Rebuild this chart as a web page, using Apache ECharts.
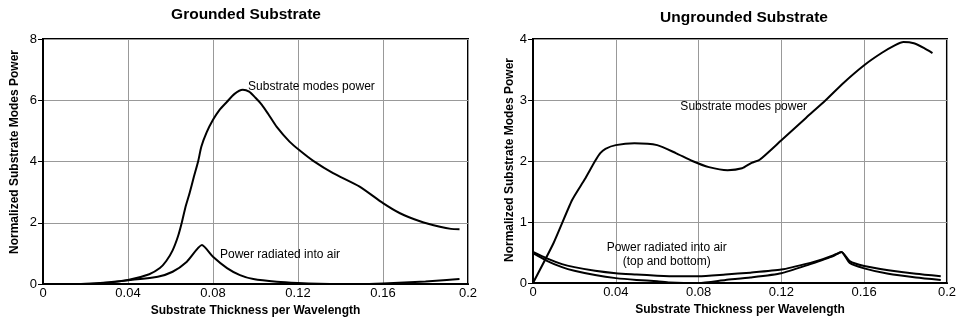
<!DOCTYPE html>
<html>
<head>
<meta charset="utf-8">
<script src="https://cdn.jsdelivr.net/npm/echarts@6/dist/echarts.min.js"></script>
<style>
  html, body { margin: 0; padding: 0; background: #fff; }
  #chart { width: 959px; height: 323px; }
</style>
</head>
<body>
<div id="chart"></div>
<script>
// grounded substrate
const gModeX = [0, 0.01, 0.02, 0.03, 0.04, 0.05, 0.055, 0.058, 0.061, 0.0635, 0.0653, 0.067, 0.069, 0.071, 0.073, 0.0745, 0.077, 0.080, 0.083, 0.0866, 0.090, 0.094, 0.097, 0.100, 0.103, 0.106, 0.110, 0.116, 0.121, 0.127, 0.1365, 0.149, 0.16, 0.168, 0.1774, 0.1868, 0.192, 0.196];
const gModeY = [0, 0, 0.01, 0.05, 0.13, 0.32, 0.52, 0.75, 1.1, 1.55, 2.0, 2.5, 2.97, 3.5, 4.0, 4.48, 4.95, 5.36, 5.68, 5.95, 6.2, 6.34, 6.28, 6.08, 5.85, 5.55, 5.13, 4.65, 4.35, 4.03, 3.62, 3.18, 2.64, 2.31, 2.05, 1.87, 1.80, 1.79];
const gAirX = [0, 0.02, 0.03, 0.04, 0.054, 0.061, 0.0677, 0.0748, 0.080, 0.0866, 0.0927, 0.099, 0.11, 0.12, 0.13, 0.14, 0.15, 0.16, 0.17, 0.18, 0.19, 0.196];
const gAirY = [0, 0, 0.04, 0.12, 0.24, 0.4, 0.73, 1.27, 0.89, 0.52, 0.29, 0.16, 0.07, 0.03, 0.01, 0, 0, 0.02, 0.05, 0.08, 0.13, 0.16];

// ungrounded substrate
const uModeX = [0, 0.01, 0.0189, 0.025, 0.030, 0.0325, 0.035, 0.04, 0.049, 0.06, 0.069, 0.077, 0.085, 0.094, 0.101, 0.1056, 0.1095, 0.12, 0.132, 0.1415, 0.15, 0.16, 0.1684, 0.175, 0.179, 0.184, 0.189, 0.193];
const uModeY = [0, 0.66, 1.36, 1.7, 2.0, 2.13, 2.2, 2.26, 2.29, 2.26, 2.13, 2.0, 1.9, 1.85, 1.88, 1.97, 2.02, 2.34, 2.71, 3.0, 3.28, 3.57, 3.77, 3.9, 3.95, 3.93, 3.85, 3.77];
const uAirTopX = [0, 0.007, 0.014, 0.02, 0.03, 0.04, 0.05, 0.06, 0.07, 0.08, 0.093, 0.105, 0.12, 0.134, 0.14, 0.145, 0.149, 0.153, 0.16, 0.1717, 0.185, 0.197];
const uAirTopY = [0.51, 0.4, 0.31, 0.26, 0.2, 0.16, 0.14, 0.12, 0.11, 0.11, 0.14, 0.17, 0.22, 0.33, 0.39, 0.45, 0.51, 0.36, 0.28, 0.21, 0.15, 0.11];
const uAirBotX = [0, 0.007, 0.014, 0.02, 0.03, 0.04, 0.05, 0.06, 0.066, 0.08, 0.093, 0.105, 0.12, 0.134, 0.14, 0.145, 0.149, 0.153, 0.16, 0.1717, 0.185, 0.197];
const uAirBotY = [0.49, 0.36, 0.26, 0.2, 0.13, 0.08, 0.05, 0.03, 0.01, 0.0, 0.05, 0.09, 0.16, 0.31, 0.38, 0.44, 0.51, 0.33, 0.24, 0.15, 0.09, 0.05];

const xTicks = { min: 0, max: 0.2, interval: 0.04 };
const titles = ['Grounded Substrate', 'Ungrounded Substrate'];
const xName = 'Substrate Thickness per Wavelength';
const yName = 'Normalized Substrate Modes Power';

const FONT = 'Liberation Sans, Arial, sans-serif';
const zip = (xs, ys) => xs.map((x, i) => [x, ys[i]]);

function xAxis(gridIndex) {
  return {
    type: 'value', gridIndex, ...xTicks,
    name: xName, nameLocation: 'middle', nameGap: 21,
    nameTextStyle: { fontFamily: FONT, fontWeight: 'bold', fontSize: 12, color: '#000' },
    axisLine: { show: true, lineStyle: { color: '#000', width: 2 } },
    axisTick: { show: false },
    axisLabel: { fontFamily: FONT, fontSize: 13, color: '#000', margin: 3 },
    splitLine: { show: true, lineStyle: { color: '#999', width: 1 } },
  };
}
function yAxis(gridIndex, max, interval) {
  return {
    type: 'value', gridIndex, min: 0, max, interval,
    axisLine: { show: true, lineStyle: { color: '#000', width: 2 } },
    axisTick: { show: true, length: 5, lineStyle: { color: '#000' } },
    axisLabel: { fontFamily: FONT, fontSize: 13, color: '#000', margin: 6 },
    splitLine: { show: true, lineStyle: { color: '#999', width: 1 } },
  };
}
function line(data, xi, notes) {
  return {
    type: 'line', data, xAxisIndex: xi, yAxisIndex: xi,
    smooth: 0.2, showSymbol: false, symbol: 'none',
    lineStyle: { color: '#000', width: 2, join: 'round' },
    markPoint: notes ? {
      symbol: 'circle', symbolSize: 0, silent: true,
      data: notes.map(n => ({
        coord: n.at,
        label: {
          show: true, formatter: n.text, position: [0, 0],
          align: n.align || 'left', verticalAlign: 'middle',
          fontFamily: FONT, fontSize: 12, color: '#000', lineHeight: 14,
        },
      })),
    } : undefined,
  };
}
function text(x, y, str, size, rotation) {
  return {
    type: 'text', x, y, rotation: rotation || 0, silent: true,
    style: { text: str, fontFamily: FONT, fontWeight: 'bold', fontSize: size, fill: '#000',
      align: 'center', verticalAlign: 'middle' },
  };
}

const chart = echarts.init(document.getElementById('chart'));
chart.setOption({
  animation: false,
  graphic: [
    text(246, 15, titles[0], 15.5),
    text(744, 18, titles[1], 15.5),
    text(15, 152, yName, 12, Math.PI / 2),
    text(510, 160, yName, 12, Math.PI / 2),
  ],
  grid: [
    { left: 43, right: 491, top: 39, bottom: 39, show: true, borderColor: '#000', borderWidth: 2 },
    { left: 533, right: 2, top: 39, bottom: 40, show: true, borderColor: '#000', borderWidth: 2 },
  ],
  xAxis: [xAxis(0), xAxis(1)],
  yAxis: [yAxis(0, 8, 2), yAxis(1, 4, 1)],
  series: [
    line(zip(gModeX, gModeY), 0, [{ at: [0.0965, 6.44], text: 'Substrate modes power' }]),
    line(zip(gAirX, gAirY), 0, [{ at: [0.0833, 0.95], text: 'Power radiated into air' }]),
    line(zip(uModeX, uModeY), 1, [{ at: [0.0712, 2.89], text: 'Substrate modes power' }]),
    line(zip(uAirTopX, uAirTopY), 1, [{ at: [0.0646, 0.46], text: 'Power radiated into air\n(top and bottom)', align: 'center' }]),
    line(zip(uAirBotX, uAirBotY), 1),
  ],
});
</script>
</body>
</html>
